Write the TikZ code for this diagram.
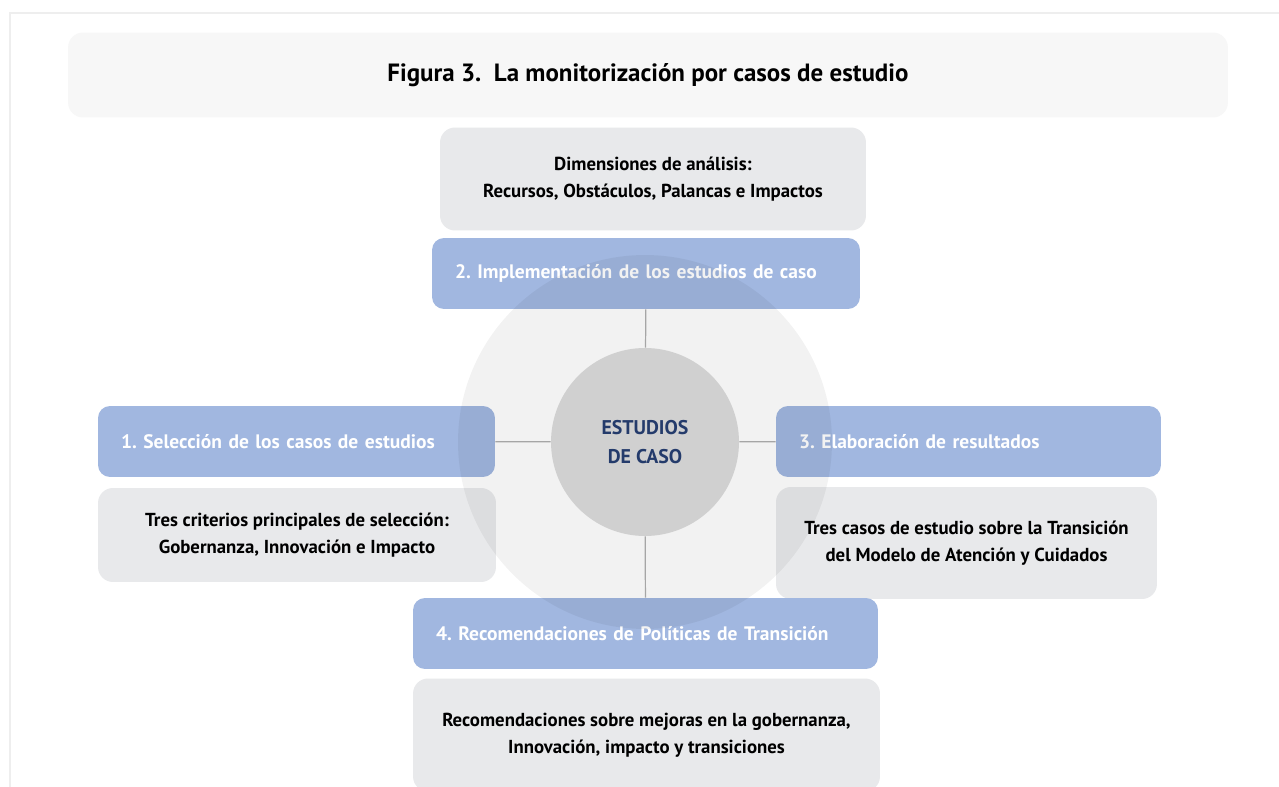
\documentclass[tikz,border=0pt]{standalone}
\usepackage{fontspec}
\setmainfont{PT Sans}
\usetikzlibrary{positioning}
\frenchspacing

\definecolor{azulEtapa}{HTML}{A1B7E0}
\definecolor{grisDetalle}{HTML}{E8E9EB}
\definecolor{grisTitulo}{HTML}{F7F7F7}
\definecolor{grisCentro}{HTML}{D0D0D0}
\definecolor{azulOscuro}{HTML}{243B6B}
\definecolor{grisLinea}{HTML}{A6A6A6}
\definecolor{grisMarco}{HTML}{EEEEEE}

\tikzset{
  etapabox/.style={fill=azulEtapa, rounded corners=0.24cm, text=white, align=left,
    font=\bfseries\fontsize{11.1}{13}\selectfont, inner xsep=0.46cm, inner ysep=0pt,
    minimum height=1.42cm},
  detallebox/.style={fill=grisDetalle, rounded corners=0.3cm, align=center,
    font=\bfseries\fontsize{10.7}{15.4}\selectfont, inner sep=0pt},
  conector/.style={draw=grisLinea, line width=0.7pt}
}

\begin{document}
\begin{tikzpicture}[x=0.02cm, y=-0.02cm]
\clip (0,0) rectangle (1279,787);
\fill[white] (0,0) rectangle (1279,787);
\draw[grisMarco, line width=1.1pt] (10,787) -- (10,13) -- (1279,13);
% titulo
\node[fill=grisTitulo, rounded corners=0.3cm, minimum width=23.2cm, minimum height=1.7cm,
  font=\bfseries\fontsize{14.2}{16}\selectfont] (titulo) at (648,75)
  {Figura 3.\ \ La monitorización por casos de estudio};
% cajas de detalle
\node[detallebox, minimum width=8.52cm, minimum height=2.06cm] (dimensiones) at (653,179)
  {Dimensiones de análisis:\\Recursos, Obstáculos, Palancas e Impactos};
\node[detallebox, minimum width=7.96cm, minimum height=1.88cm] (criterios) at (297,535)
  {Tres criterios principales de selección:\\Gobernanza, Innovación e Impacto};
\node[detallebox, minimum width=7.62cm, minimum height=2.24cm] (casos) at (966.5,543)
  {Tres casos de estudio sobre la Transición\\del Modelo de Atención y Cuidados};
\node[detallebox, minimum width=9.34cm, minimum height=2.26cm] (mejoras) at (646.5,735)
  {Recomendaciones sobre mejoras en la gobernanza,\\Innovación, impacto y transiciones};
% etapas
\node[etapabox, text width=7.64cm] (impl) at (646,273.5) {2. Implementación de los estudios de caso};
\node[etapabox, text width=7.02cm] (sel) at (296.5,441.5) {1. Selección de los casos de estudios};
\node[etapabox, text width=6.78cm] (elab) at (968.5,441.5) {3. Elaboración de resultados};
\node[etapabox, text width=8.38cm] (recom) at (645.5,633.5) {4. Recomendaciones de Políticas de Transición};
% circulo grande
\node[circle, fill=black, fill opacity=0.05, minimum size=7.48cm, inner sep=0pt] (anillo) at (645,442) {};
% centro
\node[circle, fill=grisCentro, minimum size=3.76cm, inner sep=0pt, align=center, text=azulOscuro,
  font=\bfseries\fontsize{11.3}{16}\selectfont] (centro) at (645,442) {ESTUDIOS\\DE CASO};
\draw[conector] (centro) -- (impl);
\draw[conector] (centro) -- (sel);
\draw[conector] (centro) -- (elab);
\draw[conector] (centro) -- (recom);
\end{tikzpicture}
\end{document}
